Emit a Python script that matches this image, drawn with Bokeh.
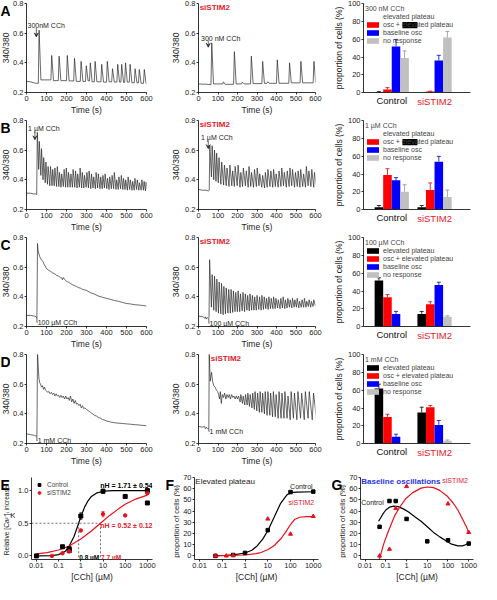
from bokeh.plotting import figure
from bokeh.layouts import row, column
from bokeh.models import (Range1d, FixedTicker, Label, Legend, LegendItem, Arrow, VeeHead, LinearAxis,
                          TeeHead, Whisker, ColumnDataSource, BoxAnnotation, CustomJSTickFormatter,
                          PrintfTickFormatter)
from bokeh.embed import file_html
from bokeh.resources import INLINE
import math

FONT = "Liberation Sans"

# ======================= DATA =======================
time_ticks = [0, 100, 200, 300, 400, 500, 600]
ratio_ticks = [0.2, 0.4, 0.6, 0.8]
pct_ticks = [0, 20, 40, 60, 80, 100]
conc_ticks = [0.01, 0.1, 1, 10, 100, 1000]
rel_ticks = [0.0, 0.5, 1.0]
prop_ticks = [0, 10, 20, 30, 40, 50, 60, 70]

groups = ["Control", "siSTIM2"]
categories = ["elevated plateau", "osc + elevated plateau", "baseline osc", "no response"]
doses = ["300 nM CCh", "1 \u00b5M CCh", "100 \u00b5M CCh", "1 mM CCh"]

# bar means [group][category] and SEM
bars_300nM = [[0.5, 3.5, 52, 39], [0, 1, 36, 62]]
err_300nM = [[0.5, 2, 8, 8], [0, 0.5, 6, 7]]
bars_1uM = [[2.5, 39, 33, 20], [2.5, 22, 54, 14]]
err_1uM = [[2, 7, 3, 8], [2, 8, 6, 8]]
bars_100uM = [[52, 33, 14, 0.5], [14, 25, 47, 11]]
err_100uM = [[3, 3, 3, 0], [3, 3, 3, 1]]
bars_1mM = [[62, 30, 7.5, 0.5], [35, 41, 21, 3]]
err_1mM = [[5, 3, 3, 0], [6, 2, 5, 1]]

# ---- trace A1: control, 300 nM (spikes) ----
a1_base_t = [0, 20, 40, 50]
a1_base_v = [0.275, 0.272, 0.264, 0.262]
a1_peak_t = [63, 126, 163, 204, 240, 273, 299, 319, 343, 376, 404, 430, 456, 476, 495, 518, 543, 564, 589]
a1_peak_v = [0.62, 0.45, 0.445, 0.45, 0.43, 0.41, 0.38, 0.40, 0.41, 0.39, 0.41, 0.36, 0.39, 0.39, 0.40, 0.39, 0.36, 0.355, 0.355]
a1_trough_v = [0.285, 0.28, 0.28, 0.278, 0.275, 0.275, 0.278, 0.272, 0.272, 0.27, 0.272, 0.27, 0.27, 0.268, 0.27, 0.266, 0.265, 0.262, 0.26]
a1_end = [600, 0.258]

# ---- trace A2: siSTIM2, 300 nM ----
a2_base_t = [0, 20, 40, 50]
a2_base_v = [0.258, 0.256, 0.256, 0.254]
a2_peak_t = [68, 128, 184, 225, 271, 329, 355, 404, 467, 525, 592]
a2_peak_v = [0.535, 0.272, 0.475, 0.27, 0.445, 0.41, 0.272, 0.42, 0.40, 0.41, 0.41]
a2_trough_v = [0.258, 0.255, 0.258, 0.258, 0.26, 0.262, 0.262, 0.262, 0.265, 0.265, 0.268]
a2_end = [600, 0.268]

# ---- trace B1: control, 1 uM (oscillations) ----
b1_base_t = [0, 20, 35, 45, 51]
b1_base_v = [0.31, 0.31, 0.305, 0.305, 0.30]
b1_peak_t = [54, 64, 75, 86, 97, 108, 120, 131, 142, 154, 165, 176, 188, 199, 210, 222, 233, 245, 256, 268,
             279, 290, 302, 313, 325, 336, 348, 359, 371, 382, 393, 405, 416, 428, 439, 451, 462, 474, 485,
             496, 508, 519, 531, 542, 554, 565, 577, 588, 598]
b1_peak_v = [0.72, 0.66, 0.61, 0.55, 0.52, 0.49, 0.49, 0.47, 0.48, 0.49, 0.45, 0.44, 0.47, 0.48, 0.45, 0.44,
             0.47, 0.46, 0.44, 0.48, 0.45, 0.43, 0.45, 0.46, 0.44, 0.42, 0.45, 0.44, 0.42, 0.43, 0.44, 0.41,
             0.42, 0.43, 0.45, 0.40, 0.42, 0.43, 0.41, 0.40, 0.42, 0.40, 0.39, 0.41, 0.40, 0.38, 0.40, 0.39, 0.385]
b1_trough_v = [0.47, 0.43, 0.40, 0.38, 0.37, 0.36, 0.36, 0.36, 0.355, 0.355, 0.35, 0.355, 0.35, 0.35, 0.35,
               0.35, 0.35, 0.345, 0.35, 0.345, 0.345, 0.35, 0.345, 0.34, 0.345, 0.34, 0.345, 0.34, 0.34, 0.345,
               0.34, 0.335, 0.34, 0.34, 0.335, 0.335, 0.34, 0.335, 0.335, 0.33, 0.335, 0.33, 0.33, 0.335, 0.33,
               0.33, 0.33, 0.325, 0.33]

# ---- trace B2: siSTIM2, 1 uM ----
b2_base_t = [0, 20, 40, 50, 55]
b2_base_v = [0.335, 0.33, 0.33, 0.325, 0.33]
b2_peak_t = [58, 70, 82, 93, 105, 119, 133, 146, 161, 175, 188, 203, 217, 230, 245, 259, 272, 287, 301, 314,
             329, 343, 356, 371, 385, 398, 413, 427, 440, 455, 469, 482, 497, 511, 524, 539, 553, 566, 581, 595]
b2_peak_v = [0.63, 0.63, 0.60, 0.58, 0.55, 0.52, 0.50, 0.48, 0.50, 0.46, 0.49, 0.50, 0.45, 0.48, 0.46, 0.49,
             0.45, 0.47, 0.48, 0.44, 0.43, 0.45, 0.47, 0.46, 0.47, 0.44, 0.46, 0.48, 0.45, 0.46, 0.48, 0.47,
             0.45, 0.46, 0.47, 0.44, 0.49, 0.46, 0.47, 0.45]
b2_trough_v = [0.42, 0.40, 0.39, 0.38, 0.37, 0.365, 0.36, 0.355, 0.36, 0.355, 0.36, 0.35, 0.355, 0.36, 0.35,
               0.355, 0.35, 0.355, 0.36, 0.35, 0.345, 0.35, 0.355, 0.35, 0.355, 0.35, 0.355, 0.36, 0.35, 0.355,
               0.36, 0.35, 0.355, 0.35, 0.355, 0.35, 0.36, 0.355, 0.35, 0.36]

# ---- trace C1: control, 100 uM (plateau decay) ----
c1_t = [0, 20, 40, 48, 52, 53, 55, 58, 62, 66, 70, 76, 82, 90, 100, 110, 120, 130, 140, 150, 160, 170, 176,
        180, 184, 190, 200, 210, 220, 230, 240, 250, 260, 270, 280, 290, 300, 320, 340, 360, 380, 400, 420,
        440, 460, 480, 500, 520, 540, 560, 580, 600]
c1_v = [0.275, 0.275, 0.27, 0.265, 0.255, 0.40, 0.76, 0.71, 0.69, 0.672, 0.66, 0.648, 0.638, 0.615, 0.59,
        0.58, 0.572, 0.562, 0.556, 0.545, 0.54, 0.53, 0.528, 0.515, 0.53, 0.518, 0.505, 0.498, 0.49, 0.482,
        0.476, 0.47, 0.462, 0.458, 0.45, 0.447, 0.443, 0.428, 0.418, 0.405, 0.397, 0.39, 0.383, 0.375, 0.37,
        0.362, 0.355, 0.352, 0.347, 0.345, 0.342, 0.338]

# ---- trace C2: siSTIM2, 100 uM ----
c2_base_t = [0, 25, 32, 36, 40, 45, 50, 54]
c2_base_v = [0.27, 0.265, 0.255, 0.265, 0.25, 0.26, 0.255, 0.26]
c2_peak_t = [57, 70, 82, 94, 106, 118, 130, 142, 155, 167, 179, 191, 203, 215, 228, 240, 252, 264, 276, 288,
             300, 313, 325, 337, 349, 361, 373, 385, 397, 409, 422, 434, 446, 458, 470, 482, 494, 506, 518,
             531, 543, 555, 567, 579, 591]
c2_peak_v = [0.65, 0.55, 0.54, 0.52, 0.50, 0.49, 0.47, 0.46, 0.45, 0.45, 0.44, 0.43, 0.44, 0.42, 0.43, 0.42,
             0.41, 0.42, 0.41, 0.40, 0.41, 0.40, 0.41, 0.40, 0.39, 0.40, 0.39, 0.40, 0.39, 0.38, 0.39, 0.40,
             0.38, 0.39, 0.38, 0.39, 0.38, 0.39, 0.37, 0.38, 0.39, 0.37, 0.38, 0.37, 0.38]
c2_trough_v = [0.33, 0.31, 0.30, 0.29, 0.285, 0.28, 0.285, 0.29, 0.29, 0.295, 0.30, 0.30, 0.30, 0.305, 0.30,
               0.31, 0.305, 0.31, 0.31, 0.31, 0.315, 0.31, 0.315, 0.32, 0.315, 0.32, 0.32, 0.32, 0.325, 0.32,
               0.325, 0.32, 0.325, 0.33, 0.325, 0.33, 0.33, 0.325, 0.33, 0.33, 0.33, 0.335, 0.33, 0.335, 0.34]

# ---- trace D1: control, 1 mM ----
d1_t = [0, 20, 40, 48, 52, 53, 55, 58, 62, 66, 70, 75, 80, 85, 90, 95, 100, 106, 112, 118, 124, 130, 136, 142,
        148, 154, 160, 166, 172, 178, 184, 190, 196, 202, 208, 214, 220, 226, 232, 238, 244, 250, 256, 262,
        268, 274, 280, 286, 292, 300, 310, 320, 330, 340, 350, 360, 370, 380, 390, 400, 420, 440, 460, 480,
        500, 520, 540, 560, 580, 600]
d1_v = [0.265, 0.26, 0.255, 0.25, 0.25, 0.40, 0.82, 0.74, 0.64, 0.61, 0.60, 0.58, 0.59, 0.565, 0.58, 0.56,
        0.555, 0.545, 0.55, 0.535, 0.545, 0.53, 0.54, 0.52, 0.535, 0.52, 0.525, 0.51, 0.525, 0.51, 0.52,
        0.50, 0.52, 0.50, 0.51, 0.49, 0.52, 0.48, 0.50, 0.47, 0.49, 0.465, 0.47, 0.455, 0.465, 0.44, 0.455,
        0.435, 0.44, 0.43, 0.42, 0.41, 0.40, 0.39, 0.385, 0.375, 0.37, 0.362, 0.358, 0.352, 0.345, 0.34,
        0.337, 0.335, 0.332, 0.33, 0.327, 0.325, 0.322, 0.32]

# ---- trace D2: siSTIM2, 1 mM ----
d2_base_t = [0, 20, 30, 35, 40, 45, 50, 53, 55, 60, 67, 72, 78, 85, 92, 98, 103, 108, 112, 117, 122, 128,
             134, 140, 146, 152, 158, 164, 170, 176, 182, 188, 194, 200]
d2_base_v = [0.315, 0.31, 0.315, 0.30, 0.31, 0.30, 0.30, 0.30, 0.81, 0.62, 0.68, 0.62, 0.59, 0.58, 0.56, 0.55,
             0.53, 0.50, 0.55, 0.47, 0.53, 0.51, 0.54, 0.50, 0.53, 0.51, 0.53, 0.50, 0.53, 0.51, 0.52, 0.50,
             0.52, 0.50]
d2_peak_t = [205, 217, 229, 241, 253, 265, 278, 290, 303, 316, 329, 342, 356, 370, 384, 398, 413, 428, 443,
             459, 475, 492, 510, 529, 548, 568, 590]
d2_peak_v = [0.52, 0.53, 0.52, 0.53, 0.54, 0.53, 0.54, 0.55, 0.54, 0.55, 0.54, 0.55, 0.55, 0.54, 0.55, 0.53,
             0.55, 0.54, 0.55, 0.52, 0.55, 0.54, 0.55, 0.54, 0.55, 0.55, 0.54]
d2_trough_v = [0.48, 0.47, 0.46, 0.46, 0.45, 0.44, 0.43, 0.42, 0.41, 0.41, 0.40, 0.39, 0.39, 0.38, 0.38, 0.37,
               0.37, 0.37, 0.37, 0.36, 0.37, 0.36, 0.37, 0.36, 0.37, 0.36, 0.36]

# ---- panel E: relative [Ca2+]i increase ----
e_ctrl_x = [0.01, 0.15, 0.3, 0.3, 1, 10, 100, 1000, 1000]
e_ctrl_y = [0.0, 0.14, 0.11, 0.08, 0.61, 0.99, 0.91, 1.0, 0.81]
e_ctrl_err = [0, 0, 0, 0, 0.05, 0.03, 0, 0, 0.02]
e_si_x = [0.05, 0.15, 0.3, 1, 10, 100, 1000]
e_si_y = [0.0, 0.04, 0.07, 0.39, 0.64, 0.62, 0.96]
e_si_err = [0, 0, 0, 0, 0.04, 0, 0]
e_fit_ctrl_x = [0.01, 0.05, 0.1, 0.2, 0.3, 0.5, 0.8, 1, 1.5, 2, 3, 5, 10, 30, 1000]
e_fit_ctrl_y = [0.0, 0.005, 0.02, 0.07, 0.15, 0.3, 0.5, 0.6, 0.75, 0.83, 0.91, 0.96, 0.99, 1.0, 1.0]
e_fit_si_x = [0.01, 0.03, 0.1, 0.3, 1, 3, 7.7, 20, 50, 100, 300, 1000]
e_fit_si_y = [0.03, 0.05, 0.09, 0.15, 0.26, 0.38, 0.5, 0.62, 0.72, 0.79, 0.87, 0.93]
k_ctrl = 0.8
k_si = 7.7
nh_ctrl = "1.71 \u00b1 0.54"
nh_si = "0.52 \u00b1 0.12"

# ---- panel F: elevated plateau ----
f_ctrl_x = [0.05, 0.3, 1, 10, 100, 1000]
f_ctrl_y = [0, 0.8, 2.7, 23, 57, 57.4]
f_si_x = [0.05, 0.15, 0.3, 10, 100, 1000]
f_si_y = [0, 0, 0.5, 33, 19.5, 35.3]
f_fit_ctrl_x = [0.05, 0.15, 0.3, 1, 2, 3.4, 6, 10, 19, 36, 71, 120, 200, 1000]
f_fit_ctrl_y = [0.3, 0.6, 0.9, 2.6, 5, 8.9, 15, 22.5, 34.5, 46.6, 54.7, 56.8, 57, 57.3]
f_fit_si_x = [0.05, 1, 3, 5, 10, 20, 40, 60, 100, 150, 250, 500, 1000]
f_fit_si_y = [0, 0.8, 2, 3, 5.5, 9.5, 16, 21, 28, 32.5, 34.5, 35, 35]

# ---- panel G: baseline oscillations ----
g_ctrl_x = [0.05, 0.15, 0.3, 1, 10, 100, 1000]
g_ctrl_y = [26, 49, 49, 33, 13, 14, 11]
g_si_x = [0.05, 0.15, 0.3, 1, 100, 1000]
g_si_y = [0, 6, 42.5, 62, 46.5, 21]
g_fit_ctrl_x = [0.045, 0.07, 0.1, 0.15, 0.25, 0.4, 0.7, 1.2, 2.5, 5, 10, 20, 40, 80, 150, 300, 500, 700, 1000]
g_fit_ctrl_y = [31, 37, 41, 43.5, 44.5, 44, 42, 39.5, 35, 31, 26, 21, 17, 13.5, 10.5, 9, 9, 10, 11.5]
g_fit_si_x = [0.045, 0.06, 0.08, 0.12, 0.18, 0.27, 0.45, 0.9, 2, 5, 10, 20, 40, 90, 180, 300, 500, 750, 1000]
g_fit_si_y = [-6, 3, 11, 20, 28, 36, 43, 51, 56.5, 60.5, 61.5, 61, 58.5, 53.5, 47, 41, 33, 26.5, 21]

# ======================= STYLE / LAYOUT =======================
RED_TXT = "#e3202a"
RED_LINE = "#e8101a"
BAR_COLORS = ["#000000", "#ff0000", "#0000ff", "#c0c0c0"]
ERR_COLORS = ["#000000", "#d00000", "#0000c0", "#909090"]
BAR_OFFS = [-0.3, -0.1, 0.1, 0.3]
TRACE_COLOR = "#2a2a2a"
TXT = "#222222"

TOP_H = 117
BOT_H = 116
TOP_BT, TOP_BB = 3, 21
BOT_BT, BOT_BB = 9, 22
TOP_FH = TOP_H - TOP_BT - TOP_BB
BOT_FH = BOT_H - BOT_BT - BOT_BB


def style_axes(p, tick_size="7.5px", label_size="8.5px"):
    p.outline_line_color = None
    p.xgrid.visible = False
    p.ygrid.visible = False
    p.background_fill_color = "white"
    p.border_fill_color = "white"
    for ax in p.axis:
        ax.major_label_text_font = FONT
        ax.major_label_text_font_size = tick_size
        ax.major_label_text_color = TXT
        ax.axis_label_text_font = FONT
        ax.axis_label_text_font_size = label_size
        ax.axis_label_text_font_style = "normal"
        ax.axis_label_text_color = TXT
        ax.major_tick_in = 0
        ax.major_tick_out = 2
        ax.minor_tick_line_color = None
        ax.major_label_standoff = 1
        ax.axis_label_standoff = 1
        ax.axis_line_width = 0.8
        ax.major_tick_line_width = 0.8


def make_fig(width, height, xr, yr, bl, br, bt, bb, log=False):
    p = figure(width=width, height=height, x_range=xr, y_range=yr,
               x_axis_type="log" if log else "linear",
               output_backend="svg", toolbar_location=None, title=None, tools="")
    p.min_border_left = bl
    p.min_border_right = br
    p.min_border_top = bt
    p.min_border_bottom = bb
    return p


def strip(width, height, bt, bb, letter, ylabel, ylabel_x=None, ylabel_size="8.5px", ylabel_shift=0,
          extra=None):
    """Narrow figure (same frame rows as its neighbours) holding the panel letter and the y-axis title."""
    fh = height - bt - bb
    p = figure(width=width, height=height, x_range=Range1d(0, width), y_range=Range1d(0, fh),
               x_axis_location=None, y_axis_location=None, output_backend="svg",
               toolbar_location=None, title=None, tools="")
    p.min_border_left = 0
    p.min_border_right = 0
    p.min_border_top = bt
    p.min_border_bottom = bb
    p.outline_line_color = None
    p.xgrid.visible = False
    p.ygrid.visible = False
    p.background_fill_color = "white"
    p.border_fill_color = "white"
    if letter:
        p.add_layout(Label(x=0, y=fh + 1, text=letter, text_font=FONT, text_font_size="14px",
                           text_font_style="bold", text_baseline="top", text_align="left",
                           text_color="black"))
    if ylabel:
        p.add_layout(Label(x=ylabel_x if ylabel_x is not None else width, y=fh / 2 - ylabel_shift,
                           text=ylabel, angle=math.pi / 2, text_align="center", text_baseline="bottom",
                           text_font=FONT, text_font_size=ylabel_size, text_color=TXT))
    if extra:
        for (tx, ty, text, size) in extra:
            p.add_layout(Label(x=tx, y=ty, text=text, text_align="right", text_baseline="middle",
                               text_font=FONT, text_font_size=size, text_color=TXT))
    return p


def spike_trace(bt_, bv, pt, pv, tv, end, rise=4, fall=9):
    t = list(bt_)
    v = list(bv)
    prev = bv[-1]
    for a, b, c in zip(pt, pv, tv):
        t += [a - rise, a, a + fall]
        v += [prev, b, c]
        prev = c
    t.append(end[0])
    v.append(end[1])
    return t, v


def osc_trace(bt_, bv, pt, pv, tv):
    t = list(bt_)
    v = list(bv)
    n = len(pt)
    for i in range(n):
        nxt = pt[i + 1] if i + 1 < n else pt[i] + (pt[i] - pt[i - 1])
        t += [pt[i], pt[i] + 0.7 * (nxt - pt[i])]
        v += [pv[i], tv[i]]
    return t, v


def trace_panel(t, v, col, si=False, si_x=6, note=None):
    if col == 0:
        width, bl, fw = 158, 13, 123
    else:
        width, bl, fw = 162, 26, 121
    br = width - bl - fw
    p = make_fig(width, TOP_H, Range1d(0, 600), Range1d(0.2, 0.8), bl, br, TOP_BT, TOP_BB)
    p.line(t, v, line_color=TRACE_COLOR, line_width=0.7)
    p.xaxis.ticker = FixedTicker(ticks=time_ticks)
    p.yaxis.ticker = FixedTicker(ticks=ratio_ticks)
    p.xaxis.axis_label = "Time (s)"
    if col == 1:
        p.yaxis.axis_label = "340/380"
    style_axes(p)
    if si:
        p.add_layout(Label(x=si_x, y=0.77, text="siSTIM2", text_font=FONT, text_font_size="8px",
                           text_font_style="bold", text_color=RED_TXT, text_baseline="middle"))
    if note:
        kind, text, tx, ty, ax_, ay0, ay1 = note
        p.add_layout(Label(x=tx, y=ty, text=text, text_font=FONT, text_font_size="7px",
                           text_baseline="middle", text_color=TXT))
        if kind == "arrow":
            p.add_layout(Arrow(x_start=ax_, y_start=ay0, x_end=ax_, y_end=ay1, line_width=0.7,
                               line_color=TXT,
                               end=VeeHead(size=4, line_color=TXT, fill_color=TXT, line_width=0.7)))
        else:
            p.add_layout(Arrow(x_start=ax_, y_start=ay0, x_end=ax_, y_end=ay1, line_width=0.7,
                               line_color=TXT, end=None))
            p.add_layout(Arrow(x_start=ax_, y_start=ay1, x_end=tx - 0.5, y_end=ay1, line_width=0.7,
                               line_color=TXT, end=None))
    return p


def bar_panel(means, errs, dose, white_first=False):
    width, bl, fw = 151, 30, 110
    br = width - bl - fw
    p = make_fig(width, TOP_H, Range1d(-0.66, 1.84), Range1d(0, 100.5), bl, br, TOP_BT, TOP_BB)
    renderers = []
    for c in range(4):
        xs = [g + BAR_OFFS[c] for g in range(2)]
        tops = [means[g][c] for g in range(2)]
        r = p.vbar(x=xs, top=tops, bottom=0, width=0.2, fill_color=BAR_COLORS[c], line_color=None)
        renderers.append(r)
        ex = [xs[g] for g in range(2) if errs[g][c] > 0]
        lo = [tops[g] for g in range(2) if errs[g][c] > 0]
        hi = [tops[g] + errs[g][c] for g in range(2) if errs[g][c] > 0]
        if ex:
            src = ColumnDataSource(dict(base=ex, lower=lo, upper=hi))
            p.add_layout(Whisker(source=src, base="base", lower="lower", upper="upper",
                                 line_color=ERR_COLORS[c], line_width=0.8, level="glyph",
                                 lower_head=None,
                                 upper_head=TeeHead(size=4, line_color=ERR_COLORS[c], line_width=0.8)))
    items = []
    for c in range(4):
        rr = renderers[c]
        if c == 0 and white_first:
            rr = p.vbar(x=[], top=[], width=0.2, fill_color="white", line_color="#bbbbbb")
        items.append(LegendItem(label=categories[c], renderers=[rr]))
    leg = Legend(items=items, location="top_left", title=dose,
                 label_text_font=FONT, label_text_font_size="7px", label_height=7,
                 label_standoff=3, glyph_width=15, glyph_height=7, spacing=1, padding=0,
                 margin=2, title_text_font=FONT, title_text_font_size="7px",
                 title_text_font_style="normal", title_standoff=1,
                 border_line_color=None, background_fill_alpha=0)
    p.add_layout(leg)
    p.yaxis.ticker = FixedTicker(ticks=pct_ticks)
    p.yaxis.axis_label = "proportion of cells (%)"
    p.xaxis.ticker = FixedTicker(ticks=[0])
    p.xaxis.major_label_overrides = {0: groups[0]}
    style_axes(p)
    ax = p.xaxis[0]
    ax.major_tick_out = 0
    ax.major_label_standoff = 2
    ax.major_label_text_font_size = "9.5px"
    ax.major_label_text_color = "#111111"
    # second group name in red, pulled up onto the same line as the first
    ax2 = LinearAxis(ticker=FixedTicker(ticks=[1]), major_label_overrides={1: groups[1]},
                     axis_line_color=None, major_tick_line_color=None, minor_tick_line_color=None,
                     major_tick_in=0, major_tick_out=0, major_label_standoff=-13,
                     major_label_text_color=RED_TXT, major_label_text_font=FONT,
                     major_label_text_font_size="9.5px")
    p.add_layout(ax2, "below")
    if white_first:
        p.add_layout(BoxAnnotation(left=0.25, right=0.6, bottom=72.5, top=79.5,
                                   fill_color="black", fill_alpha=1, line_color=None))
    return p


conc_fmt = CustomJSTickFormatter(code="return String(tick);")


def dose_panel(width, bl, fw, yr):
    br = width - bl - fw
    p = make_fig(width, BOT_H, Range1d(0.006, 1700), yr, bl, br, BOT_BT, BOT_BB, log=True)
    p.xaxis.ticker = FixedTicker(ticks=conc_ticks)
    p.xaxis.formatter = conc_fmt
    p.xaxis.axis_label = "[CCh] (\u00b5M)"
    style_axes(p)
    return p


# ---------------- build panels ----------------
a1_t, a1_v = spike_trace(a1_base_t, a1_base_v, a1_peak_t, a1_peak_v, a1_trough_v, a1_end)
a2_t, a2_v = spike_trace(a2_base_t, a2_base_v, a2_peak_t, a2_peak_v, a2_trough_v, a2_end)
b1_t, b1_v = osc_trace(b1_base_t, b1_base_v, b1_peak_t, b1_peak_v, b1_trough_v)
b2_t, b2_v = osc_trace(b2_base_t, b2_base_v, b2_peak_t, b2_peak_v, b2_trough_v)
c2_t, c2_v = osc_trace(c2_base_t, c2_base_v, c2_peak_t, c2_peak_v, c2_trough_v)
d2_t, d2_v = osc_trace(d2_base_t, d2_base_v, d2_peak_t, d2_peak_v, d2_trough_v)


def top_row(letter, t1, v1, note1, t2, v2, note2, means, errs, dose, white_first=False, si_x=6):
    s = strip(10, TOP_H, TOP_BT, TOP_BB, letter, "340/380")
    p1 = trace_panel(t1, v1, 0, note=note1)
    p2 = trace_panel(t2, v2, 1, si=True, si_x=si_x, note=note2)
    p3 = bar_panel(means, errs, dose, white_first=white_first)
    return row(s, p1, p2, p3)


rowA = top_row("A", a1_t, a1_v, ("arrow", "300nM CCh", 5, 0.655, 49, 0.635, 0.575),
               a2_t, a2_v, ("arrow", "300 nM CCh", 13, 0.566, 50, 0.55, 0.505),
               bars_300nM, err_300nM, doses[0], white_first=True)
rowB = top_row("B", b1_t, b1_v, ("arrow", "1 \u00b5M CCh", 8, 0.745, 42, 0.725, 0.67),
               b2_t, b2_v, ("arrow", "1 \u00b5M CCh", 13, 0.686, 50, 0.665, 0.61),
               bars_1uM, err_1uM, doses[1], white_first=True)
rowC = top_row("C", c1_t, c1_v, ("bracket", "100 \u00b5M CCh", 56, 0.228, 52, 0.255, 0.228),
               c2_t, c2_v, ("bracket", "100 \u00b5M CCh", 57, 0.222, 53, 0.255, 0.222),
               bars_100uM, err_100uM, doses[2])
rowD = top_row("D", d1_t, d1_v, ("bracket", "1 mM CCh", 56, 0.218, 52, 0.25, 0.218),
               d2_t, d2_v, ("bracket", "1 mM CCh", 57, 0.282, 53, 0.30, 0.282),
               bars_1mM, err_1mM, doses[3], si_x=63)

# ---- E ----
e_yr = Range1d(-0.055, 1.2)
k_y = (0.62 - e_yr.start) / (e_yr.end - e_yr.start) * BOT_FH
sE = strip(15, BOT_H, BOT_BT, BOT_BB, "E", "Relative [Ca\u00b2\u207a]\u1d62 increase", ylabel_x=9,
           ylabel_size="6.6px", ylabel_shift=2, extra=[(15, k_y, "K", "8px")])
pe = dose_panel(150, 13, 124, e_yr)
pe.yaxis.ticker = FixedTicker(ticks=rel_ticks)
pe.yaxis.formatter = PrintfTickFormatter(format="%.1f")
dash = dict(line_color="#333333", line_width=0.7, line_dash="2 2")
pe.line([pe.x_range.start, k_si], [0.5, 0.5], **dash)
pe.line([k_ctrl, k_ctrl], [0.5, pe.y_range.start], **dash)
pe.line([k_si, k_si], [0.5, pe.y_range.start], **dash)
pe.line(e_fit_ctrl_x, e_fit_ctrl_y, line_color="black", line_width=1.2)
pe.line(e_fit_si_x, e_fit_si_y, line_color=RED_LINE, line_width=1.2)
for xs, ys, es, col in [(e_ctrl_x, e_ctrl_y, e_ctrl_err, "black"), (e_si_x, e_si_y, e_si_err, RED_LINE)]:
    bx = [x for x, e in zip(xs, es) if e > 0]
    lo = [y - e for y, e in zip(ys, es) if e > 0]
    hi = [y + e for y, e in zip(ys, es) if e > 0]
    pe.add_layout(Whisker(source=ColumnDataSource(dict(base=bx, lower=lo, upper=hi)), base="base",
                          lower="lower", upper="upper", line_color=col, line_width=0.7, level="glyph",
                          lower_head=TeeHead(size=3, line_color=col, line_width=0.7),
                          upper_head=TeeHead(size=3, line_color=col, line_width=0.7)))
re_c = pe.scatter(e_ctrl_x, e_ctrl_y, marker="square", size=4, color="black")
re_s = pe.scatter(e_si_x, e_si_y, marker="circle", size=3.5, color=RED_LINE)
pe.add_layout(Legend(items=[LegendItem(label="Control", renderers=[re_c]),
                            LegendItem(label="siSTIM2", renderers=[re_s])],
                     location="top_left", label_text_font=FONT, label_text_font_size="6.5px",
                     label_height=7, glyph_width=8, glyph_height=7, spacing=1, padding=0, margin=4,
                     label_standoff=4, border_line_color=None, background_fill_alpha=0))
pe.add_layout(Label(x=7.5, y=1.085, text="nH = " + nh_ctrl, text_font=FONT, text_font_size="7px",
                    text_font_style="bold", text_baseline="middle", text_color="black"))
pe.add_layout(Label(x=7.5, y=0.47, text="nH = " + nh_si, text_font=FONT, text_font_size="7px",
                    text_font_style="bold", text_color=RED_TXT, text_baseline="middle"))
pe.add_layout(Label(x=k_ctrl * 1.06, y=-0.03, text="0.8 \u00b5M", text_font=FONT, text_font_size="6.5px",
                    text_font_style="bold", text_baseline="middle", text_color="black"))
pe.add_layout(Label(x=k_si * 1.06, y=-0.03, text="7.7 \u00b5M", text_font=FONT, text_font_size="6.5px",
                    text_font_style="bold", text_color=RED_TXT, text_baseline="middle"))

# ---- F ----
sF = strip(15, BOT_H, BOT_BT, BOT_BB, "F", "proportion of cells (%)", ylabel_size="7.5px", ylabel_shift=3)
pf = dose_panel(151, 12, 126, Range1d(-3.2, 70))
pf.yaxis.ticker = FixedTicker(ticks=prop_ticks)
pf.line(f_fit_ctrl_x, f_fit_ctrl_y, line_color="black", line_width=1.2)
pf.line(f_fit_si_x, f_fit_si_y, line_color=RED_LINE, line_width=1.2)
pf.scatter(f_ctrl_x, f_ctrl_y, marker="square", size=3.5, color="black")
pf.scatter(f_si_x, f_si_y, marker="triangle", size=4, color=RED_LINE)
pf.add_layout(Label(x=0.0065, y=66, text="Elevated plateau", text_font=FONT, text_font_size="8px",
                    text_baseline="middle", text_color=TXT))
pf.add_layout(Label(x=300, y=62, text="Control", text_font=FONT, text_font_size="7px",
                    text_baseline="middle", text_align="center", text_color=TXT))
pf.add_layout(Label(x=300, y=47.5, text="siSTIM2", text_font=FONT, text_font_size="7px",
                    text_baseline="middle", text_align="center", text_color=RED_TXT))

# ---- G ----
sG = strip(15, BOT_H, BOT_BT, BOT_BB, "G", "proportion of cells (%)", ylabel_size="7.5px", ylabel_shift=3)
pg = dose_panel(135, 13, 114, Range1d(-3.2, 70))
pg.yaxis.ticker = FixedTicker(ticks=prop_ticks)
pg.line(g_fit_ctrl_x, g_fit_ctrl_y, line_color="black", line_width=1.2)
pg.line(g_fit_si_x, g_fit_si_y, line_color=RED_LINE, line_width=1.2)
pg.scatter(g_ctrl_x, g_ctrl_y, marker="square", size=3.5, color="black")
pg.scatter(g_si_x, g_si_y, marker="triangle", size=4, color=RED_LINE)
pg.add_layout(Label(x=0.0065, y=66, text="Baseline oscillations", text_font=FONT, text_font_size="8px",
                    text_font_style="bold", text_color="#2b35e8", text_baseline="middle"))
pg.add_layout(Label(x=0.0065, y=47.5, text="Control", text_font=FONT, text_font_size="7px",
                    text_baseline="middle", text_color=TXT))
pg.add_layout(Label(x=220, y=67, text="siSTIM2", text_font=FONT, text_font_size="7px",
                    text_baseline="middle", text_align="center", text_color=RED_TXT))

rowE = row(sE, pe, sF, pf, sG, pg)

layout = column(rowA, rowB, rowC, rowD, rowE)

open("out.html", "w").write(file_html(layout, INLINE))
